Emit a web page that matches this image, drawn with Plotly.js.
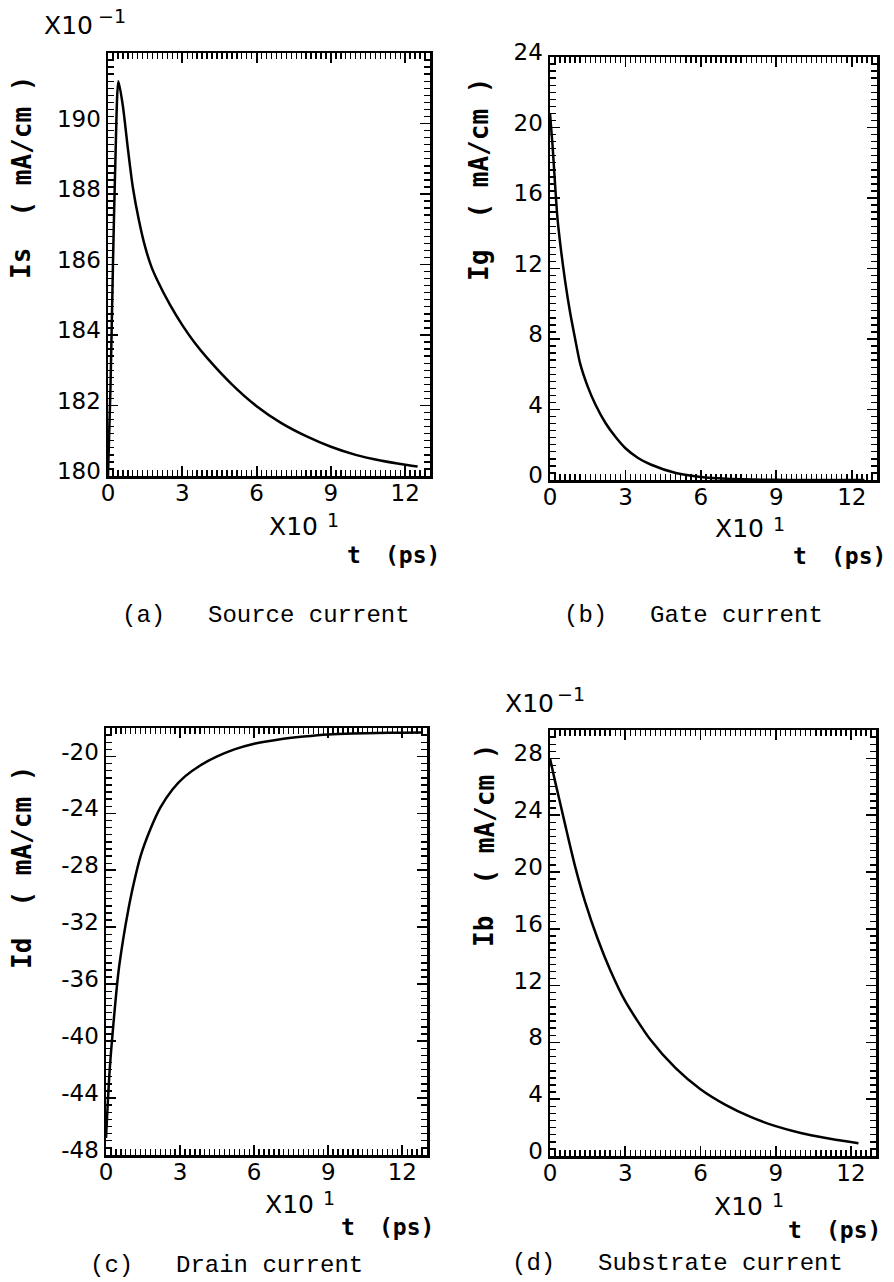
<!DOCTYPE html>
<html>
<head>
<meta charset="utf-8">
<script src="https://cdn.plot.ly/plotly-3.0.1.min.js"></script>
<style>
html,body{margin:0;padding:0;background:#fff;}
#chart{width:894px;height:1282px;}
</style>
</head>
<body>
<div id="chart"></div>
<script>
// ---- data (t in units of 10 ps) ----
const tSource = [0, 0.1, 0.2, 0.3, 0.42, 0.6, 0.8, 1.0, 1.25, 1.5, 1.75, 2.0, 2.5, 3.0, 3.5, 4.0, 5.0, 6.0, 7.0, 8.0, 9.0, 10.0, 11.0, 12.0, 12.5];
const isSource = [180.0, 182.5, 186.0, 189.0, 191.2, 190.5, 189.3, 188.2, 187.25, 186.5, 185.94, 185.54, 184.86, 184.28, 183.78, 183.35, 182.6, 181.98, 181.5, 181.13, 180.83, 180.6, 180.44, 180.32, 180.27];

const tGate = [0, 0.1, 0.2, 0.3, 0.45, 0.6, 0.8, 1.0, 1.2, 1.5, 1.8, 2.2, 2.6, 3.0, 3.5, 4.0, 5.0, 6.0, 7.0, 8.0, 9.0, 10.0, 11.0, 12.0, 12.5];
const igGate = [20.8, 19.0, 16.8, 14.8, 12.9, 11.3, 9.5, 8.0, 6.6, 5.3, 4.3, 3.25, 2.45, 1.8, 1.25, 0.88, 0.4, 0.17, 0.07, 0.03, 0.01, 0, 0, 0, 0];

const tDrain = [0, 0.15, 0.3, 0.5, 0.7, 0.9, 1.1, 1.4, 1.8, 2.2, 2.7, 3.2, 3.8, 4.5, 5.2, 6.0, 7.0, 8.0, 9.0, 10.0, 11.0, 12.0, 12.8];
const idDrain = [-46.8, -42.0, -38.8, -35.2, -32.8, -30.8, -29.1, -27.0, -25.1, -23.6, -22.3, -21.4, -20.65, -20.0, -19.5, -19.1, -18.8, -18.6, -18.45, -18.38, -18.35, -18.33, -18.32];

const tSub = [0, 0.2, 0.4, 0.7, 1.0, 1.4, 1.9, 2.4, 3.0, 4.0, 5.0, 6.0, 7.0, 8.0, 9.0, 10.0, 11.0, 12.0, 12.3];
const ibSub = [28.0, 26.4, 24.9, 22.6, 20.4, 17.9, 15.3, 13.1, 10.9, 8.2, 6.2, 4.7, 3.6, 2.75, 2.1, 1.62, 1.27, 0.98, 0.9];

// ---- tick labels ----
const xTickVals = [0, 3, 6, 9, 12];
const xTickLabels = ['0', '3', '6', '9', '12'];
const yTickValsA = [180, 182, 184, 186, 188, 190];
const yTickLabelsA = ['180', '182', '184', '186', '188', '190'];
const yTickValsB = [0, 4, 8, 12, 16, 20, 24];
const yTickLabelsB = ['0', '4', '8', '12', '16', '20', '24'];
const yTickValsC = [-48, -44, -40, -36, -32, -28, -24, -20];
const yTickLabelsC = ['-48', '-44', '-40', '-36', '-32', '-28', '-24', '-20'];
const yTickValsD = [0, 4, 8, 12, 16, 20, 24, 28];
const yTickLabelsD = ['0', '4', '8', '12', '16', '20', '24', '28'];

// ---- texts ----
const panelTags = ['(a)', '(b)', '(c)', '(d)'];
const panelNames = ['Source current', 'Gate current', 'Drain current', 'Substrate current'];
const ySymbols = ['Is', 'Ig', 'Id', 'Ib'];
const yUnit = '( mA/cm )';
const xSymbol = 't';
const xUnit = '(ps)';
const multBase = 'X10';
const xExponent = '1';
const yExponent = '\u22121';

// ---- helpers ----
const W = 894, H = 1282;
const px = v => v / W;
const py = v => 1 - v / H;
const tickFamily = 'DejaVu Sans, sans-serif';
const monoFamily = 'DejaVu Sans Mono, monospace';
const capFamily = 'Liberation Mono, Courier New, monospace';

function xAxis(x0, x1, anchor) {
  return {
    domain: [px(x0), px(x1)], anchor: anchor, range: [0, 13],
    tickmode: 'array', tickvals: xTickVals, ticktext: xTickLabels,
    ticks: 'inside', ticklen: 10, tickwidth: 1.8, tickcolor: '#000',
    minor: {dtick: 0.2, tick0: 0, ticks: 'inside', ticklen: 6, tickwidth: 1.4, tickcolor: '#000', showgrid: false},
    showline: true, linewidth: 2.5, linecolor: '#000', mirror: 'ticks',
    showgrid: false, zeroline: false, fixedrange: true,
    ticklabelstandoff: -5,
    tickfont: {family: tickFamily, size: 23, color: '#000'}
  };
}
function yAxis(y0, y1, anchor, lo, hi, vals, labels, minorStep) {
  return {
    domain: [py(y1), py(y0)], anchor: anchor, range: [lo, hi],
    tickmode: 'array', tickvals: vals, ticktext: labels,
    ticks: 'inside', ticklen: 10, tickwidth: 1.8, tickcolor: '#000',
    minor: {dtick: minorStep, tick0: lo, ticks: 'inside', ticklen: 6, tickwidth: 1.4, tickcolor: '#000', showgrid: false},
    showline: true, linewidth: 2.5, linecolor: '#000', mirror: 'ticks',
    showgrid: false, zeroline: false, fixedrange: true,
    ticklabelshift: -5,
    tickfont: {family: tickFamily, size: 23, color: '#000'}
  };
}

const lineStyle = {color: '#000', width: 2.5, shape: 'spline', smoothing: 0.7};
const traces = [
  {x: tSource, y: isSource, xaxis: 'x', yaxis: 'y', mode: 'lines', line: lineStyle, name: 'Is'},
  {x: tGate, y: igGate, xaxis: 'x2', yaxis: 'y2', mode: 'lines', line: lineStyle, name: 'Ig'},
  {x: tDrain, y: idDrain, xaxis: 'x3', yaxis: 'y3', mode: 'lines', line: lineStyle, name: 'Id'},
  {x: tSub, y: ibSub, xaxis: 'x4', yaxis: 'y4', mode: 'lines', line: lineStyle, name: 'Ib'}
];

function ann(text, x, y, opts) {
  return Object.assign({text: text, x: px(x), y: py(y), xref: 'paper', yref: 'paper', showarrow: false,
    xanchor: 'center', yanchor: 'middle',
    font: {family: tickFamily, size: 22, color: '#000'}}, opts || {});
}
const yTitleFont = {family: monoFamily, size: 26, color: '#000', weight: 'bold'};
const xTitleFont = {family: monoFamily, size: 23, color: '#000', weight: 'bold'};
const capFont = {family: capFamily, size: 24, color: '#000'};
const multFont = {family: tickFamily, size: 25, color: '#000'};
const expFont = {family: tickFamily, size: 19, color: '#000'};

// per-panel text positions (pixels)
const yTitlePos = [[21, 264, 146.5], [479, 266, 148.5], [22, 954, 836.5], [484, 931, 813.5]];
const xTitlePos = [[345, 442, 555], [791, 888, 556], [339, 436, 1227], [786, 883, 1230]];
const capPos = [[120, 206, 615], [562, 648, 615], [88, 174, 1265], [510, 596, 1263]];
// [base left, base centre y, exponent left, exponent centre y]
const xMultPos = [[267, 526, 325, 520], [713, 529, 771, 524], [263, 1204, 321, 1198], [712, 1206, 770, 1200]];
const yMultPos = [[42, 25, 96, 16], [503, 703, 555, 694]];

const annotations = [];
for (let i = 0; i < 4; i++) {
  annotations.push(ann(ySymbols[i], yTitlePos[i][0], yTitlePos[i][1], {textangle: -90, font: yTitleFont}));
  annotations.push(ann(yUnit, yTitlePos[i][0], yTitlePos[i][2], {textangle: -90, font: yTitleFont}));
  annotations.push(ann(xSymbol, xTitlePos[i][0], xTitlePos[i][2], {xanchor: 'left', font: xTitleFont}));
  annotations.push(ann(xUnit, xTitlePos[i][1], xTitlePos[i][2], {xanchor: 'right', font: xTitleFont}));
  annotations.push(ann(panelTags[i], capPos[i][0], capPos[i][2], {xanchor: 'left', font: capFont}));
  annotations.push(ann(panelNames[i], capPos[i][1], capPos[i][2], {xanchor: 'left', font: capFont}));
  annotations.push(ann(multBase, xMultPos[i][0], xMultPos[i][1], {xanchor: 'left', font: multFont}));
  annotations.push(ann(xExponent, xMultPos[i][2], xMultPos[i][3], {xanchor: 'left', font: expFont}));
}
for (const p of yMultPos) {
  annotations.push(ann(multBase, p[0], p[1], {xanchor: 'left', font: multFont}));
  annotations.push(ann(yExponent, p[2], p[3], {xanchor: 'left', font: expFont}));
}

const layout = {
  width: W, height: H,
  margin: {l: 0, r: 0, t: 0, b: 0},
  paper_bgcolor: '#fff', plot_bgcolor: '#fff',
  showlegend: false,
  xaxis: xAxis(108, 430, 'y'),
  yaxis: yAxis(53, 476, 'x', 180, 192, yTickValsA, yTickLabelsA, 0.2),
  xaxis2: xAxis(550, 877, 'y2'),
  yaxis2: yAxis(57, 480, 'x2', 0, 24, yTickValsB, yTickLabelsB, 0.4),
  xaxis3: xAxis(106, 427, 'y3'),
  yaxis3: yAxis(728, 1155, 'x3', -48, -18, yTickValsC, yTickLabelsC, 0.5),
  xaxis4: xAxis(550, 876, 'y4'),
  yaxis4: yAxis(730, 1156, 'x4', 0, 30, yTickValsD, yTickLabelsD, 0.5),
  annotations: annotations
};

Plotly.newPlot('chart', traces, layout, {staticPlot: true, displayModeBar: false});
</script>
</body>
</html>
